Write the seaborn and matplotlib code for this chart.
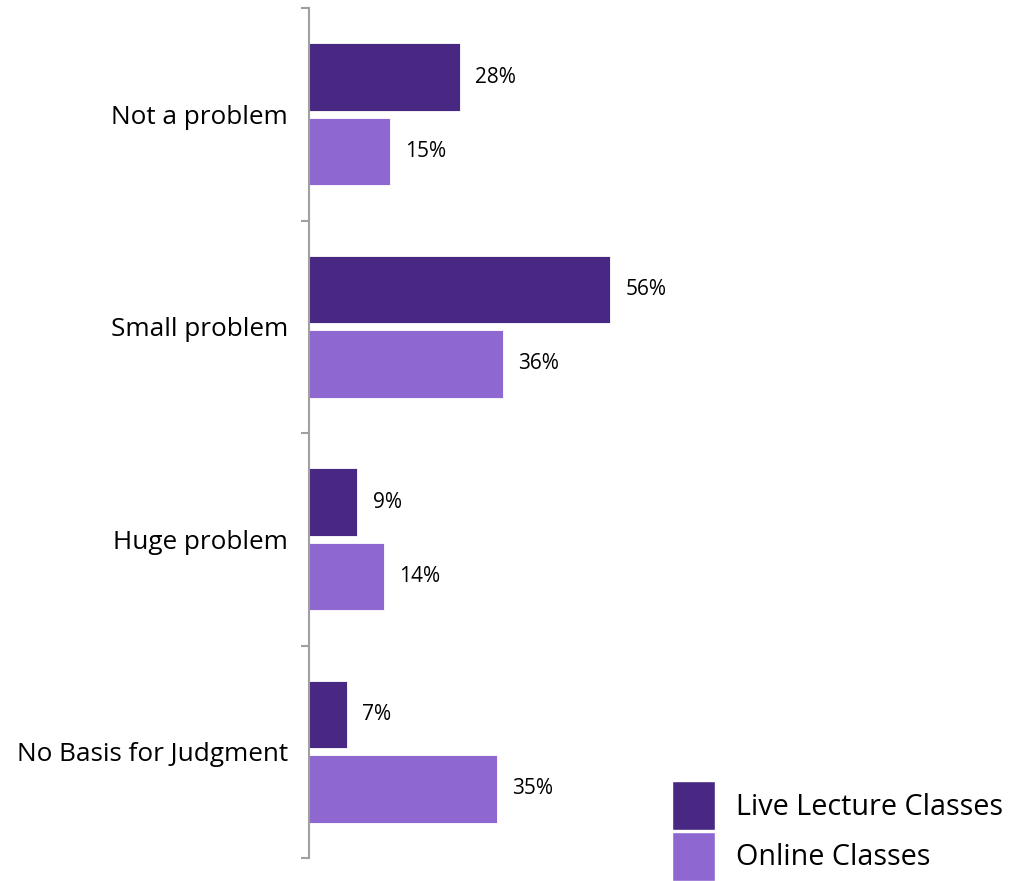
import pandas as pd
import numpy as np
import seaborn as sns
import matplotlib.pyplot as plt

categorias = ["Not a problem", "Small problem", "Huge problem", "No Basis for Judgment"]
series = ["Live Lecture Classes", "Online Classes"]
live = [28, 56, 9, 7]
online = [15, 36, 14, 35]
cores = ["#482882", "#8e68d0"]

df = pd.DataFrame({
    "categoria": categorias * 2,
    "serie": [series[0]] * 4 + [series[1]] * 4,
    "valor": live + online,
})

sns.set_style("white")
plt.rcParams["font.family"] = ["Open Sans", "DejaVu Sans"]
plt.rcParams["text.color"] = "black"
plt.rcParams["ytick.labelcolor"] = "black"

fig = plt.figure(figsize=(10.12, 8.81), dpi=100)
ax = fig.add_axes([309 / 1012, 1 - 858 / 881, 699 / 1012, 850 / 881])

sns.barplot(data=df, y="categoria", x="valor", hue="serie", order=categorias,
            hue_order=series, palette=cores, saturation=1, orient="h", width=0.7,
            gap=0.09, edgecolor="white", linewidth=0.6, legend=False, ax=ax)

for cont in ax.containers:
    ax.bar_label(cont, labels=[f"{v:.0f}%" for v in cont.datavalues],
                 padding=11, fontsize=15, color="black")

ax.set_xlim(0, 130)
ax.set_ylim(3.5, -0.5)
ax.set_xlabel("")
ax.set_ylabel("")
ax.set_xticks([])

# ticks nos limites das categorias, rotulos no meio
ax.set_yticks(np.arange(-0.5, 4, 1))
ax.set_yticklabels([])
ax.set_yticks(range(4), minor=True)
ax.set_yticklabels(categorias, minor=True, fontsize=18.8)
ax.tick_params(axis="y", which="major", length=6, width=1.5, color="#a0a0a0", left=True)
ax.tick_params(axis="y", which="minor", length=0, pad=15)

for lado in ["top", "right", "bottom"]:
    ax.spines[lado].set_visible(False)
ax.spines["left"].set_color("#a0a0a0")
ax.spines["left"].set_linewidth(1.5)

handles = [plt.Rectangle((0, 0), 1, 1, facecolor=c, edgecolor="white") for c in cores]
fig.legend(handles, series, loc="lower left", bbox_to_anchor=(672 / 1012, 0.0),
           frameon=False, fontsize=20.7, handlelength=1.5, handleheight=2.25,
           labelspacing=0.05, handletextpad=0.72, borderpad=0, borderaxespad=0)

fig.savefig("out.png", dpi=100)
